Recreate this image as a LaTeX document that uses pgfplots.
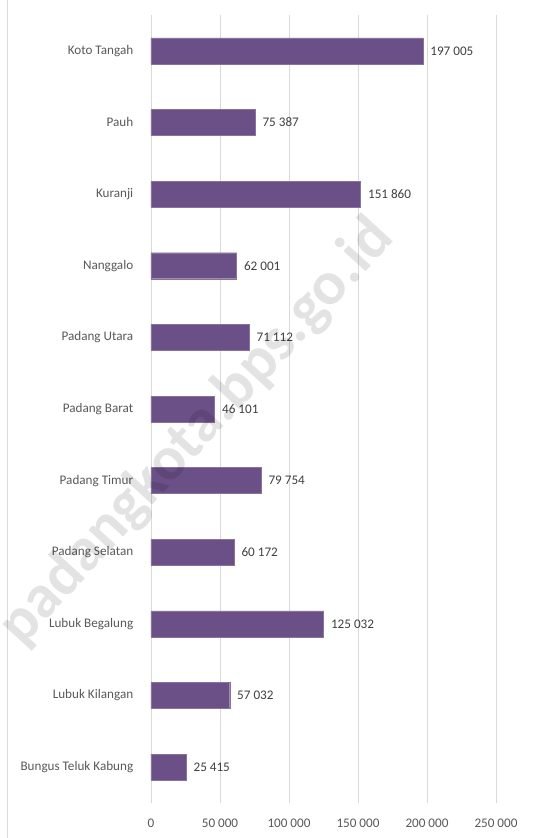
\documentclass[border=0pt]{standalone}
\usepackage{pgfplots}
\pgfplotsset{compat=1.18}
\usepackage{fontspec}
\setmainfont{Carlito}
\definecolor{barc}{HTML}{6A5087}
\definecolor{lab}{HTML}{595959}
\definecolor{dlab}{HTML}{404040}
\definecolor{grid}{HTML}{D9D9D9}
\begin{document}
\begin{tikzpicture}
\useasboundingbox[fill=white] (-151bp,-35bp) rectangle (383bp,803bp);
\draw[grid] (-144bp,-35bp) -- (-144bp,803bp);
\begin{axis}[
  at={(0,0)}, anchor=south west,
  scale only axis, width=345bp, height=788bp,
  xbar, bar width=26bp,
  xmin=0, xmax=250000,
  ymin=-0.5, ymax=10.5, y dir=reverse,
  ytick={0,...,10},
  yticklabels={Koto Tangah,Pauh,Kuranji,Nanggalo,Padang Utara,Padang Barat,Padang Timur,Padang Selatan,Lubuk Begalung,Lubuk Kilangan,Bungus Teluk Kabung},
  xtick={0,50000,100000,150000,200000,250000},
  xticklabels={0,50 000,100 000,150 000,200 000,250 000},
  xmajorgrids=true, ymajorgrids=false,
  x grid style={grid, line width=0.8pt},
  axis line style={draw=none},
  major tick style={draw=none},
  tick label style={font=\fontsize{13.2}{15}\selectfont, text=lab},
  yticklabel style={xshift=-10bp},
  xticklabel style={yshift=-12bp},
  nodes near coords,
  nodes near coords align={horizontal},
  point meta=explicit symbolic,
  nodes near coords style={font=\fontsize{13.2}{15}\selectfont, text=dlab, anchor=west, xshift=4bp},
]
\addplot[fill=barc, draw=barc!80!white] table[col sep=comma, x=v, y=i, meta=l] {
i,v,l
0,197005,197 005
1,75387,75 387
2,151860,151 860
3,62001,62 001
4,71112,71 112
5,46101,46 101
6,79754,79 754
7,60172,60 172
8,125032,125 032
9,57032,57 032
10,25415,25 415
};
\end{axis}
\node[rotate=47.5, font=\bfseries\fontsize{62}{66}\selectfont, text=black, opacity=0.11] at (46bp,371bp) {padangkota.bps.go.id};
\end{tikzpicture}
\end{document}
